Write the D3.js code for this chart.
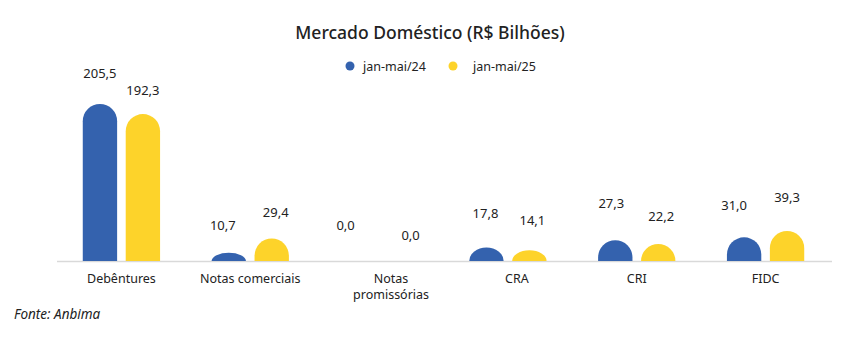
<!DOCTYPE html>
<html><head><meta charset="utf-8">
<script src="https://cdn.jsdelivr.net/npm/d3@7"></script>
<style>body{margin:0;background:#fff}svg{display:block}text{font-family:"Noto Sans",sans-serif;fill:#222}</style>
</head><body><svg id="c" width="855" height="339"></svg>
<script>
const categories = ["Debêntures", "Notas comerciais", "Notas promissórias", "CRA", "CRI", "FIDC"];
const seriesNames = ["jan-mai/24", "jan-mai/25"];
const values24 = [205.5, 10.7, 0.0, 17.8, 27.3, 31.0];
const values25 = [192.3, 29.4, 0.0, 14.1, 22.2, 39.3];
const colors = ["#3462AE", "#FDD32A"];
// label nudges (layout only)
const labelDx24 = [0, -6, -12, -1, -4, -10];
const labelDx25 = [0, 4, 10, 3, 3, 0];
const labelDy24 = [-3, 0, -8, -6, -9, -4];
const labelDy25 = [4, 1, 2, -2, 0, -6];

const svg = d3.select("#c");
const fmt = v => d3.format(".1f")(v).replace(".", ",");
const x0 = d3.scaleBand().domain(categories).range([57, 830]).paddingInner(0.4).paddingOuter(0.2);
const x1 = d3.scaleBand().domain(seriesNames).range([0, x0.bandwidth()]).paddingInner(0.2);
const y = d3.scaleLinear().domain([0, 250]).range([261, 70]);

svg.append("text").attr("x", 430).attr("y", 39).attr("text-anchor", "middle")
  .style("font-size", "17.5px").style("font-weight", 500).text("Mercado Doméstico (R$ Bilhões)");

// legend
const legX = [350, 453];
seriesNames.forEach((s, i) => {
  svg.append("circle").attr("cx", legX[i]).attr("cy", 66).attr("r", 4.5).attr("fill", colors[i]);
  svg.append("text").attr("x", legX[i] + 13 + (i ? 7 : 0)).attr("y", 70.5).style("font-size", "12.5px").text(s);
});

// axis line
svg.append("line").attr("x1", 57).attr("x2", 832).attr("y1", y(0) + 0.5).attr("y2", y(0) + 0.5)
  .attr("stroke", "#d9d9d9").attr("stroke-width", 1.5);

function barPath(xl, w, top, base) {
  const h = base - top;
  if (h <= 0) return "";
  const rx = w / 2, ry = Math.min(rx, h);
  return `M${xl},${base}L${xl},${top + ry}A${rx},${ry} 0 0 1 ${xl + w},${top + ry}L${xl + w},${base}Z`;
}

const series = [values24, values25];
const dxs = [labelDx24, labelDx25], dys = [labelDy24, labelDy25];
categories.forEach((c, ci) => {
  series.forEach((vals, si) => {
    const xl = x0(c) + x1(seriesNames[si]);
    const w = x1.bandwidth();
    const v = vals[ci];
    svg.append("path").attr("d", barPath(xl, w, y(v), y(0))).attr("fill", colors[si]);
    svg.append("text").attr("x", xl + w / 2 + dxs[si][ci]).attr("y", y(v) - 23 + dys[si][ci])
      .attr("text-anchor", "middle").style("font-size", "13px").text(fmt(v));
  });
  const lines = c === "Notas promissórias" ? ["Notas", "promissórias"] : [c];
  const cx = x0(c) + x0.bandwidth() / 2 + (c === "Notas promissórias" ? 12 : (c === "CRA" ? 9 : 0));
  lines.forEach((l, li) => {
    svg.append("text").attr("x", cx).attr("y", 283 + li * 16).attr("text-anchor", "middle")
      .style("font-size", "12.5px").text(l);
  });
});

svg.append("text").attr("x", 14).attr("y", 319).style("font-size", "13.5px").style("font-style", "italic").text("Fonte: Anbima");
</script></body></html>
